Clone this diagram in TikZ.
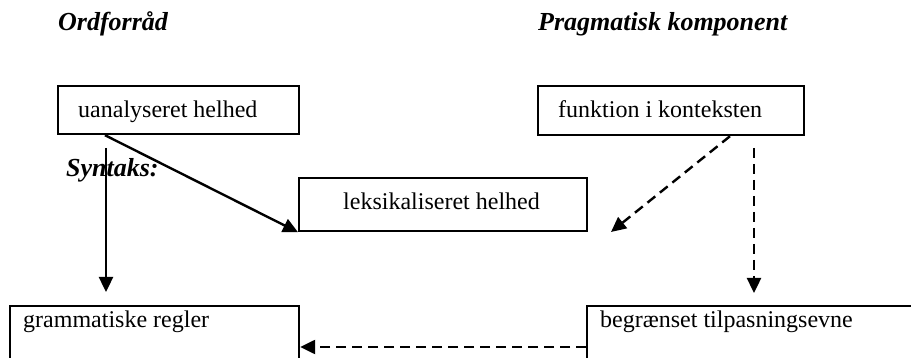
\documentclass[tikz,border=0pt]{standalone}
\usepackage{fontspec}
\setmainfont{Liberation Serif}
\usetikzlibrary{arrows.meta,calc}
\begin{document}
\begin{tikzpicture}[x=1pt,y=-1pt,
  box/.style={draw,line width=2.2pt,inner sep=0pt,anchor=north west},
  lbl/.style={anchor=base west,inner sep=0pt,font=\fontsize{24}{28}\selectfont},
  head/.style={anchor=base west,inner sep=0pt,font=\fontsize{26}{30}\selectfont\bfseries\itshape},
  arr/.style={line width=2.4pt,-{Triangle[length=15pt,width=14pt]}},
  darr/.style={arr,dash pattern=on 10pt off 6pt}]
\clip (0,0) rectangle (911,358);
\fill[white] (0,0) rectangle (911,358);
% headers
\node[head] (h1) at (58,31) {Ordforråd};
\node[head] (h2) at (538,31) {Pragmatisk komponent};
\node[head] (h3) at (66,177) {Syntaks:};
% boxes
\node[box,minimum width=241pt,minimum height=48pt] (ua) at (57,85) {};
\node[lbl] (tua) at (78,118) {uanalyseret helhed};
\node[box,minimum width=266pt,minimum height=49pt] (fk) at (537,85) {};
\node[lbl] (tfk) at (558,118) {funktion i konteksten};
\node[box,minimum width=288pt,minimum height=53pt] (lx) at (298,177) {};
\node[lbl] (tlx) at (343,210) {leksikaliseret helhed};
\node[box,minimum width=289pt,minimum height=80pt] (gr) at (9,305) {};
\node[lbl] (tgr) at (23,327) {grammatiske regler};
\node[box,minimum width=340pt,minimum height=80pt] (bg) at (586,305) {};
\node[lbl] (tbg) at (600,327) {begrænset tilpasningsevne};
% connector ends
\coordinate (a1) at ($(ua.south west)+(48,0)$);
\coordinate (v1s) at (106,148);
\coordinate (v1e) at (106,292);
\coordinate (d1s) at ($(fk.south west)+(193,0)$);
\coordinate (d1e) at (611,232);
\coordinate (v2s) at (754,148);
\coordinate (v2e) at (754,293);
\coordinate (hy) at (0,347);
\coordinate (hs) at (bg.west |- hy);
\coordinate (he) at (gr.east |- hy);
% connectors
\draw[arr] (a1) -- (lx.south west);
\draw[arr] (v1s) -- (v1e);
\draw[darr] (d1s) -- (d1e);
\draw[darr] (v2s) -- (v2e);
\draw[darr] (hs) -- (he);
\end{tikzpicture}
\end{document}
